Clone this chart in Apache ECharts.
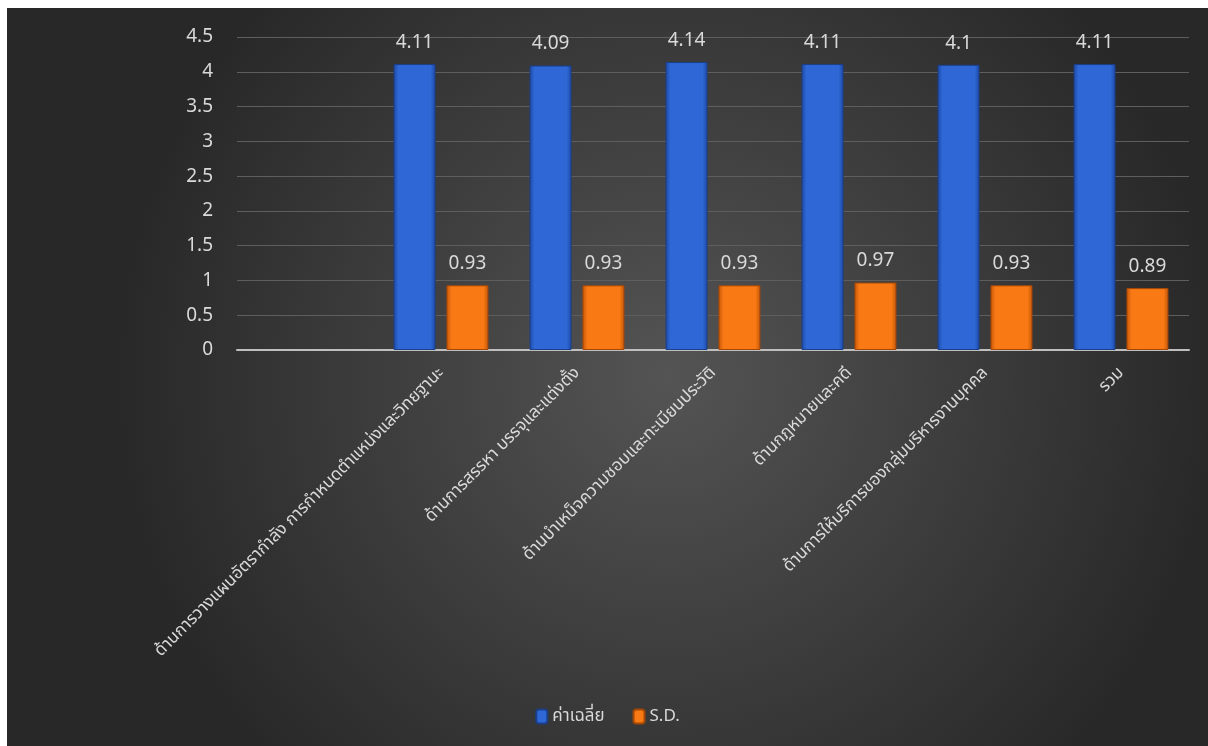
<!DOCTYPE html>
<html>
<head>
<meta charset="utf-8">
<script src="https://cdn.jsdelivr.net/npm/echarts@6/dist/echarts.min.js"></script>
<style>
html,body{margin:0;padding:0;background:#ffffff;width:1208px;height:746px;overflow:hidden;}
#chart{position:absolute;left:7px;top:8px;width:1201px;height:738px;}
</style>
</head>
<body>
<div id="chart"></div>
<script>
const categories = [
  "",
  "ด้านการวางแผนอัตรากำลัง การกำหนดตำแหน่งและวิทยฐานะ",
  "ด้านการสรรหา บรรจุและแต่งตั้ง",
  "ด้านบำเหน็จความชอบและทะเบียนประวัติ",
  "ด้านกฎหมายและคดี",
  "ด้านการให้บริการของกลุ่มบริหารงานบุคคล",
  "รวม"
];
const meanValues = [null, 4.11, 4.09, 4.14, 4.11, 4.1, 4.11];
const sdValues = [null, 0.93, 0.93, 0.93, 0.97, 0.93, 0.89];
const seriesNames = ["ค่าเฉลี่ย", "S.D."];

const textColor = '#d9d9d9';
const fontFam = '"Noto Sans", "Noto Sans Thai", "DejaVu Sans", sans-serif';

function hGrad(edge, mid) {
  return new echarts.graphic.LinearGradient(0, 0, 1, 0, [
    {offset: 0, color: edge},
    {offset: 0.12, color: mid},
    {offset: 0.88, color: mid},
    {offset: 1, color: edge}
  ]);
}

const chart = echarts.init(document.getElementById('chart'));
chart.setOption({
  backgroundColor: new echarts.graphic.RadialGradient(0.55, 0.5, 0.75, [
    {offset: 0, color: '#545454'},
    {offset: 1, color: '#282828'}
  ]),
  textStyle: {fontFamily: fontFam},
  animation: false,
  grid: {left: 230, right: 19, top: 29, bottom: 396, containLabel: false},
  legend: {
    bottom: 16,
    left: 'center',
    itemWidth: 11,
    itemHeight: 14,
    itemGap: 28,
    textStyle: {color: textColor, fontSize: 17, fontFamily: fontFam},
    data: seriesNames
  },
  xAxis: {
    type: 'category',
    data: categories,
    axisLine: {lineStyle: {color: '#bfbfbf', width: 2}},
    axisTick: {show: false},
    axisLabel: {
      interval: 0,
      rotate: 45,
      color: textColor,
      fontSize: 17,
      margin: 20
    }
  },
  yAxis: {
    type: 'value',
    min: 0,
    max: 4.5,
    interval: 0.5,
    axisLine: {show: false},
    axisTick: {show: false},
    splitLine: {lineStyle: {color: '#5e5e5e', width: 1}},
    axisLabel: {color: textColor, fontSize: 19, margin: 24}
  },
  series: [
    {
      name: seriesNames[0],
      type: 'bar',
      data: meanValues,
      barWidth: 42,
      barGap: '26%',
      itemStyle: {color: hGrad('#1d4aa6', '#2f68d6'), borderColor: '#1a3f8c', borderWidth: 1},
      label: {show: true, position: 'top', distance: 12, color: textColor, fontSize: 19}
    },
    {
      name: seriesNames[1],
      type: 'bar',
      data: sdValues,
      barWidth: 42,
      itemStyle: {color: hGrad('#c45608', '#f97a14'), borderColor: '#a54806', borderWidth: 1},
      label: {show: true, position: 'top', distance: 12, color: textColor, fontSize: 19}
    }
  ]
});
</script>
</body>
</html>
